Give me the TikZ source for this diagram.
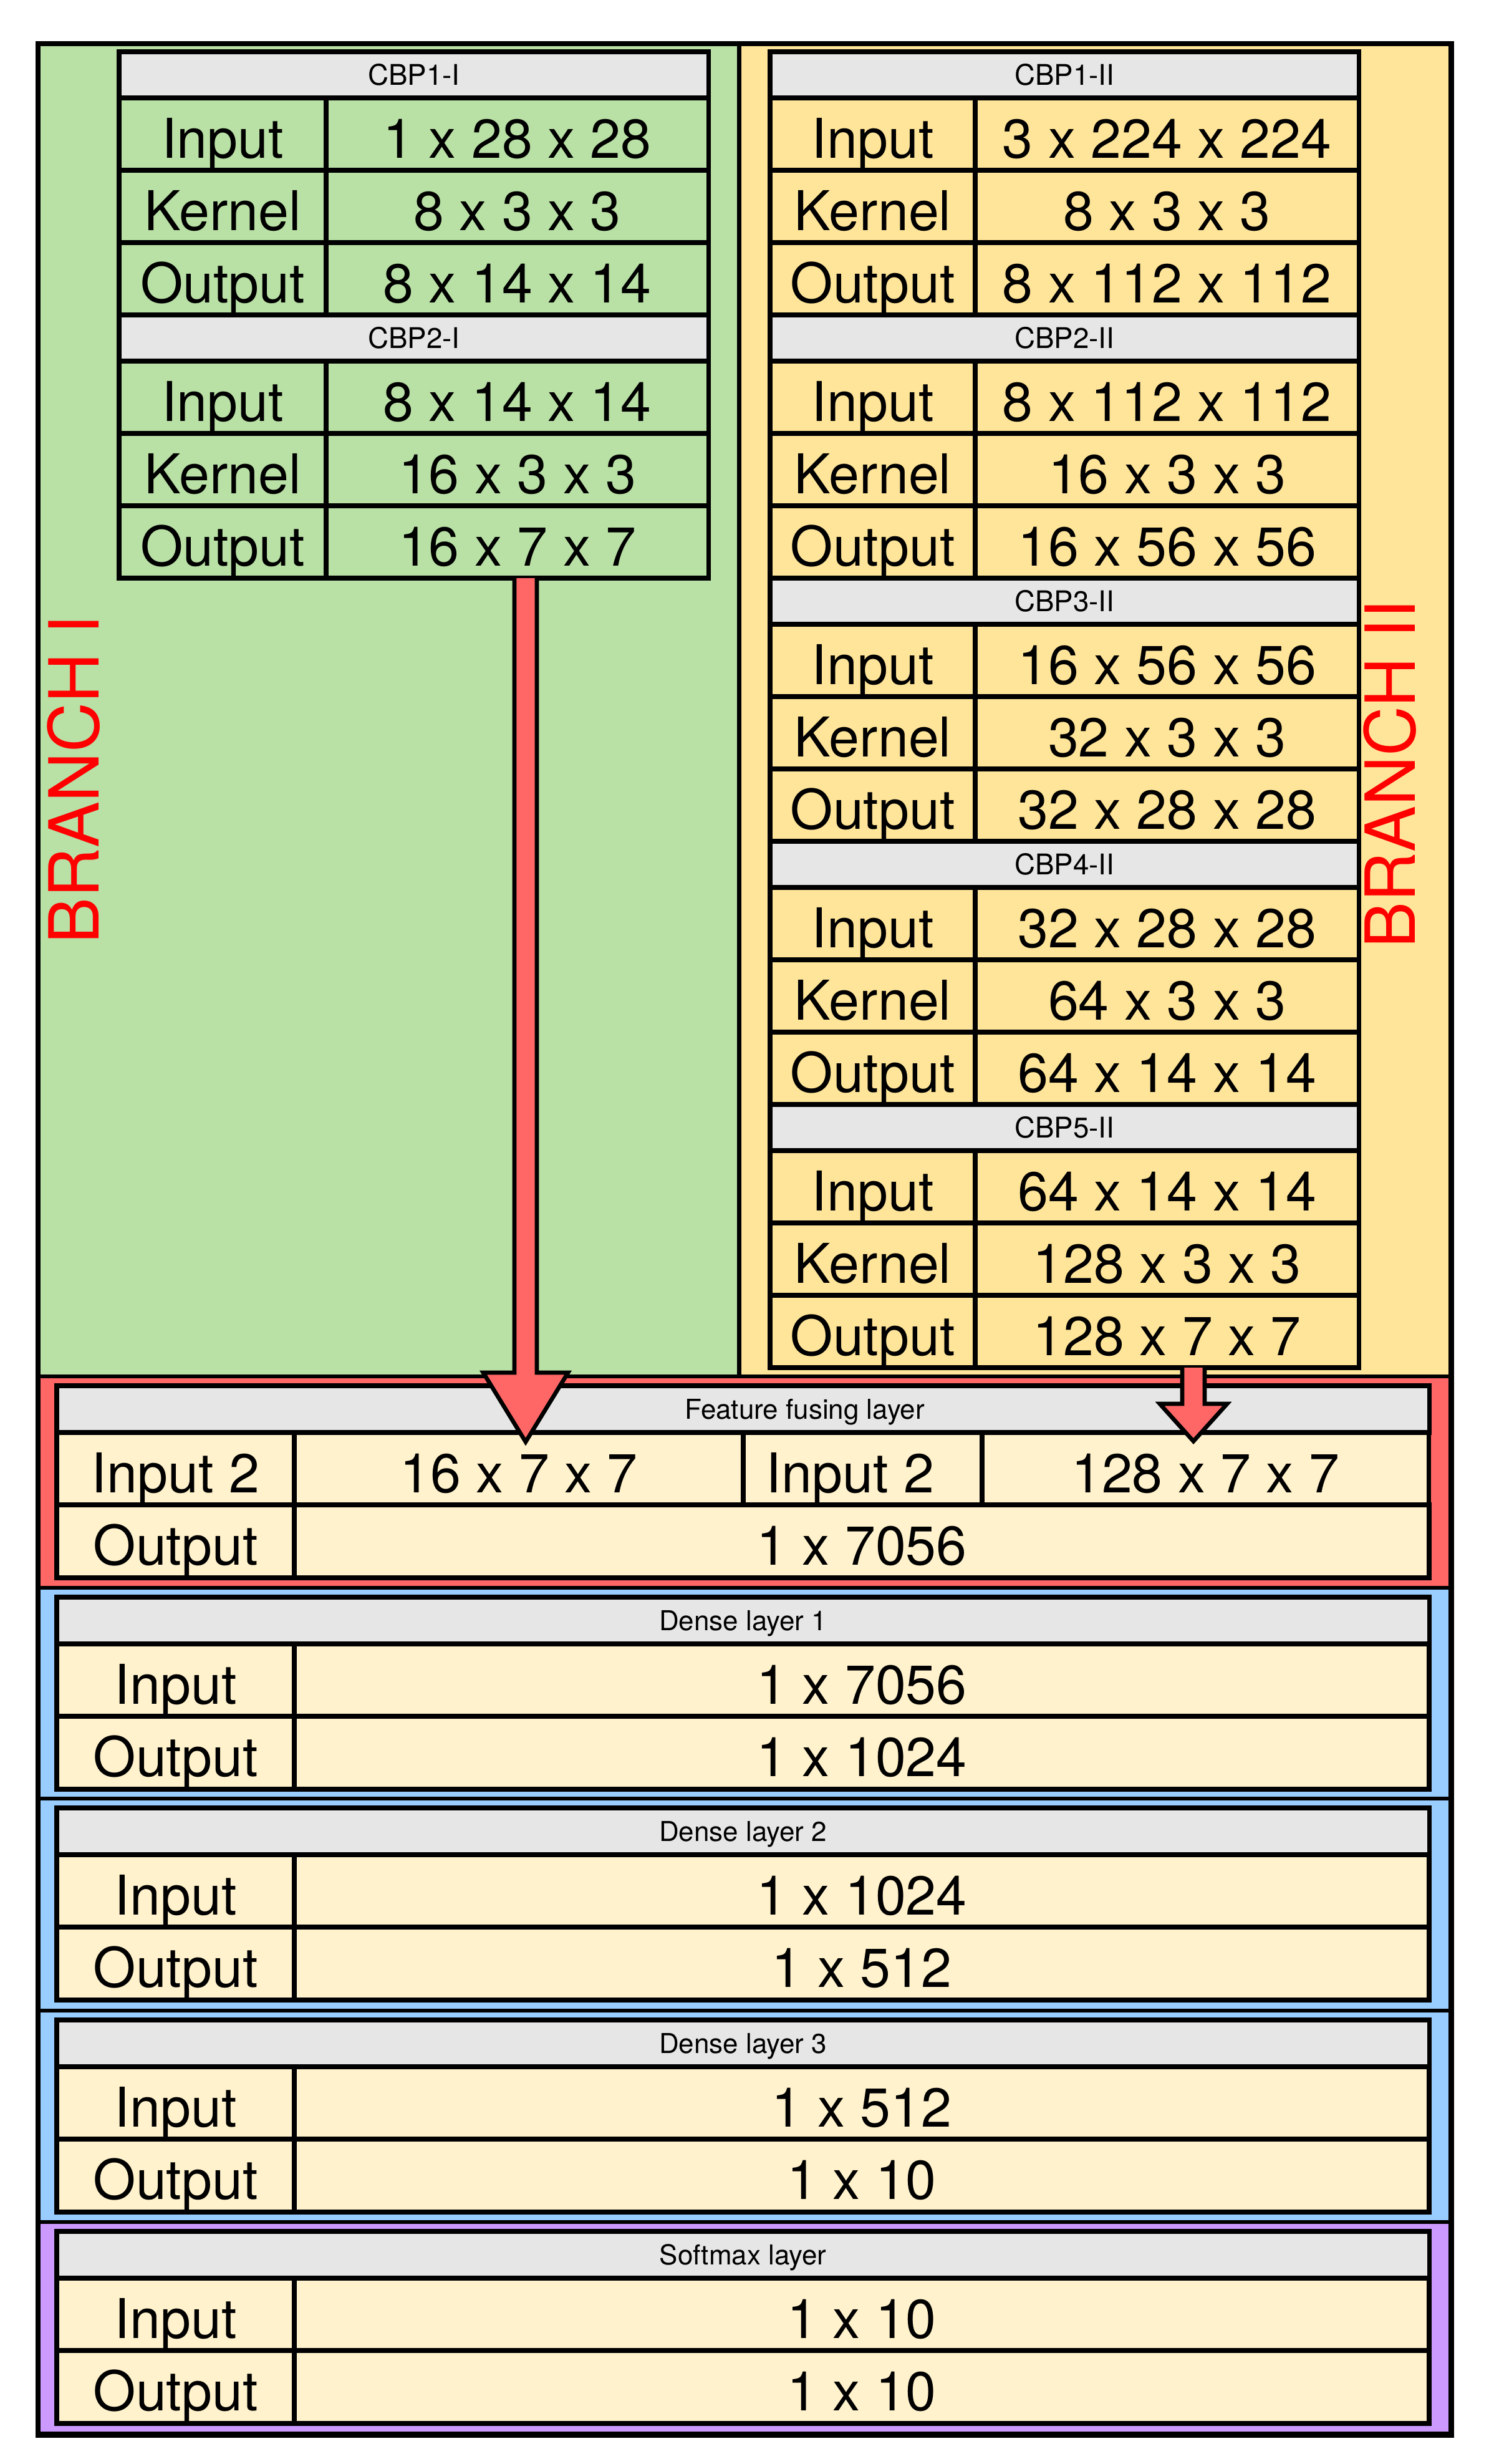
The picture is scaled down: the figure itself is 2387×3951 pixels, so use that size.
\documentclass[tikz,border=0pt]{standalone}
\usepackage{fontspec}
\setmainfont{TeX Gyre Heros}
\usetikzlibrary{calc}
\definecolor{grn}{HTML}{B9E0A5}
\definecolor{ylw}{HTML}{FFE599}
\definecolor{lyl}{HTML}{FFF2CC}
\definecolor{hdr}{HTML}{E6E6E6}
\definecolor{redb}{HTML}{FF6666}
\definecolor{blub}{HTML}{99CCFF}
\definecolor{purb}{HTML}{CC99FF}
\definecolor{brtxt}{HTML}{FF0000}

\tikzset{
  cell/.style={draw=black,line width=2.1pt,inner sep=0pt,outer sep=0pt,anchor=north west,
    text height=0.76cm,text depth=0pt,font=\fontsize{25}{30}\selectfont},
  hcell/.style={cell,fill=hdr,text height=0.33cm,font=\fontsize{13}{15}\selectfont},
  lhcell/.style={cell,fill=hdr,text height=0.32cm,font=\fontsize{12.5}{15}\selectfont},
  boxst/.style={draw=black,line width=1.6pt,inner sep=0pt,outer sep=0pt,anchor=north west},
  branch/.style={text=brtxt,rotate=90,inner sep=0pt,text height=0.8cm,text depth=0pt,
    font=\fontsize{31.5}{36}\selectfont},
  bigarrow/.style={fill=redb,draw=black,line width=1.9pt,line join=miter},
}

% name, top, title, input, kernel, output (uses \XA \XB \XC \cfill)
\newcommand\cbpblock[6]{%
  \pgfmathsetmacro\wall{(\XC-\XA)/100}%
  \pgfmathsetmacro\wl{(\XB-\XA)/100}%
  \pgfmathsetmacro\wv{(\XC-\XB)/100}%
  \node[hcell,minimum width=\wall cm,minimum height=0.74cm] (#1h) at (\XA,#2) {#3};
  \node[cell,fill=\cfill,minimum width=\wl cm,minimum height=1.16cm] (#1il) at (\XA,#2+74) {Input};
  \node[cell,fill=\cfill,minimum width=\wv cm,minimum height=1.16cm] (#1iv) at (\XB,#2+74) {#4};
  \node[cell,fill=\cfill,minimum width=\wl cm,minimum height=1.16cm] (#1kl) at (\XA,#2+190) {Kernel};
  \node[cell,fill=\cfill,minimum width=\wv cm,minimum height=1.16cm] (#1kv) at (\XB,#2+190) {#5};
  \node[cell,fill=\cfill,minimum width=\wl cm,minimum height=1.16cm] (#1ol) at (\XA,#2+306) {Output};
  \node[cell,fill=\cfill,minimum width=\wv cm,minimum height=1.16cm] (#1ov) at (\XB,#2+306) {#6};
}

% name, top, height, colour
\newcommand\lowbox[4]{%
  \pgfmathsetmacro\bh{#3/100}%
  \node[boxst,fill=#4,minimum width=22.65cm,minimum height=\bh cm] (#1) at (61,#2) {};
}

% name, top, title, input, output
\newcommand\lowtable[5]{%
  \node[lhcell,minimum width=22cm,minimum height=0.75cm] (#1h) at (91,#2+15) {#3};
  \node[cell,fill=lyl,minimum width=3.81cm,minimum height=1.16cm] (#1il) at (91,#2+90) {Input};
  \node[cell,fill=lyl,minimum width=18.19cm,minimum height=1.16cm] (#1iv) at (472,#2+90) {#4};
  \node[cell,fill=lyl,minimum width=3.81cm,minimum height=1.17cm] (#1ol) at (91,#2+206) {Output};
  \node[cell,fill=lyl,minimum width=18.19cm,minimum height=1.17cm] (#1ov) at (472,#2+206) {#5};
}

\begin{document}
\begin{tikzpicture}[x=0.01cm,y=-0.01cm]
\useasboundingbox (0,0) rectangle (2387,3951);
\fill[white] (0,0) rectangle (2387,3951);

% branch backgrounds
\node[boxst,draw=none,fill=grn,minimum width=11.24cm,minimum height=21.37cm] (bgI) at (61,70) {};
\node[boxst,draw=none,fill=ylw,minimum width=11.41cm,minimum height=21.37cm] (bgII) at (1185,70) {};
\draw[line width=2.1pt] (bgI.north east) -- (bgI.south east);

% lower coloured boxes
\lowbox{fusebox}{2207}{339}{redb}
\lowbox{dbox1}{2546}{338}{blub}
\lowbox{dbox2}{2884}{340}{blub}
\lowbox{dbox3}{3224}{339}{blub}
\lowbox{smbox}{3563}{339}{purb}

% branch I tables
\def\XA{191}\def\XB{523}\def\XC{1136}\def\cfill{grn}
\cbpblock{gA}{83}{CBP1-I}{1 x 28 x 28}{8 x 3 x 3}{8 x 14 x 14}
\cbpblock{gB}{505}{CBP2-I}{8 x 14 x 14}{16 x 3 x 3}{16 x 7 x 7}

% branch II tables
\def\XA{1235}\def\XB{1564}\def\XC{2179}\def\cfill{ylw}
\cbpblock{yA}{83}{CBP1-II}{3 x 224 x 224}{8 x 3 x 3}{8 x 112 x 112}
\cbpblock{yB}{505}{CBP2-II}{8 x 112 x 112}{16 x 3 x 3}{16 x 56 x 56}
\cbpblock{yC}{927}{CBP3-II}{16 x 56 x 56}{32 x 3 x 3}{32 x 28 x 28}
\cbpblock{yD}{1349}{CBP4-II}{32 x 28 x 28}{64 x 3 x 3}{64 x 14 x 14}
\cbpblock{yE}{1771}{CBP5-II}{64 x 14 x 14}{128 x 3 x 3}{128 x 7 x 7}

% branch labels
\node[branch] (brI) at (118,1250) {BRANCH I};
\node[branch] (brII) at (2229,1241) {BRANCH II};

% feature fusing layer
\node[lhcell,minimum width=22cm,minimum height=0.75cm] (fh) at (91,2222) {\hspace*{1.98cm}Feature fusing layer};
\node[cell,fill=lyl,minimum width=3.81cm,minimum height=1.16cm] (fa) at (91,2297) {Input 2};
\node[cell,fill=lyl,minimum width=7.20cm,minimum height=1.16cm] (fb) at (472,2297) {16 x 7 x 7};
\node[cell,fill=lyl,minimum width=3.83cm,minimum height=1.16cm] (fc) at (1192,2297) {Input 2\hspace*{0.4cm}};
\node[cell,fill=lyl,minimum width=7.16cm,minimum height=1.16cm] (fd) at (1575,2297) {128 x 7 x 7};
\node[cell,fill=lyl,minimum width=3.81cm,minimum height=1.17cm] (fol) at (91,2413) {Output};
\node[cell,fill=lyl,minimum width=18.19cm,minimum height=1.17cm] (fov) at (472,2413) {1 x 7056};

% dense + softmax layers
\lowtable{dA}{2546}{Dense layer 1}{1 x 7056}{1 x 1024}
\lowtable{dB}{2884}{Dense layer 2}{1 x 1024}{1 x 512}
\lowtable{dC}{3224}{Dense layer 3}{1 x 512}{1 x 10}
\lowtable{sm}{3563}{Softmax layer}{1 x 10}{1 x 10}

% outer frame
\node[boxst,line width=2.5pt,minimum width=22.65cm,minimum height=38.32cm] (frame) at (61,70) {};

% arrows
\coordinate (las) at (843,0 |- gBov.south);
\coordinate (lat) at (843,2312);
\filldraw[bigarrow] ($(las)+(-18,0)$) -- ($(lat)+(-18,-111)$) -- ($(lat)+(-68,-111)$) -- (lat)
  -- ($(lat)+(68,-111)$) -- ($(lat)+(18,-111)$) -- ($(las)+(18,0)$);
\coordinate (ras) at (1914,0 |- yEov.south);
\coordinate (rat) at (1914,2311);
\filldraw[bigarrow] ($(ras)+(-18,0)$) -- ($(rat)+(-18,-60)$) -- ($(rat)+(-54,-60)$) -- (rat)
  -- ($(rat)+(54,-60)$) -- ($(rat)+(18,-60)$) -- ($(ras)+(18,0)$);
\end{tikzpicture}
\end{document}
